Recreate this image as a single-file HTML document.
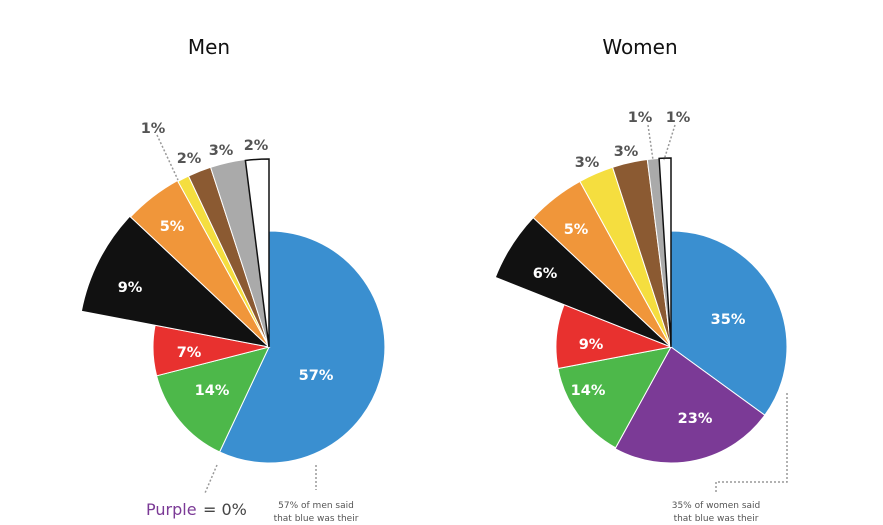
<!DOCTYPE html>
<html><head><meta charset="utf-8"><style>
body{margin:0;background:#fff;width:883px;height:525px;overflow:hidden}
svg{display:block}
text{font-family:"DejaVu Sans","Liberation Sans",sans-serif}
.b{font-weight:bold}
</style></head><body>
<svg id="s" width="883" height="525" viewBox="0 0 883 525">
<text x="209" y="54" font-size="20" text-anchor="middle" fill="#111">Men</text>
<text x="640" y="54" font-size="20" text-anchor="middle" fill="#111">Women</text>
<g id="p"></g>
<g fill="none" stroke="#999" stroke-width="1.5" stroke-dasharray="2,2">
<line x1="217" y1="465" x2="205" y2="493"/>
<line x1="316" y1="465" x2="316" y2="490"/>
<line x1="157" y1="135" x2="178" y2="180"/>
<polyline points="787,393 787,482 716,482 716,492"/>
<line x1="648" y1="125" x2="653" y2="160"/>
<line x1="675" y1="125" x2="664" y2="160"/>
</g>
<g id="l" font-size="14.5" text-anchor="middle" class="b"></g>
<text x="146" y="515" font-size="16" fill="#7b3a96">Purple</text>
<text x="203" y="515" font-size="16" fill="#444">= 0%</text>
<text x="316" y="508" font-size="9" fill="#555" text-anchor="middle">57% of men said</text>
<text x="316" y="521" font-size="9" fill="#555" text-anchor="middle">that blue was their</text>
<text x="716" y="508" font-size="9" fill="#555" text-anchor="middle">35% of women said</text>
<text x="716" y="521" font-size="9" fill="#555" text-anchor="middle">that blue was their</text>
</svg>
<script>
var C={b:"#3a8fd0",p:"#7b3a96",g:"#4db84a",r:"#e8312f",k:"#111",o:"#f0963a",y:"#f5de3f",n:"#8b5a32",a:"#aaa",w:"#fff"};
function pie(cx,cy,data){var a=0,h="";data.forEach(function(d){var a0=a,a1=a+d[1]*3.6;a=a1;var r=d[2];
function pt(t){t=t*Math.PI/180;return (cx+r*Math.sin(t)).toFixed(1)+","+(cy-r*Math.cos(t)).toFixed(1)}
h+='<path d="M'+cx+','+cy+' L'+pt(a0)+' A'+r+','+r+' 0 '+(a1-a0>180?1:0)+' 1 '+pt(a1)+' Z" fill="'+C[d[0]]+'" stroke="'+(d[0]=="w"?"#111":"#fff")+'" stroke-width="'+(d[0]=="w"?1.5:1)+'"/>';});return h;}
document.getElementById("p").innerHTML=
pie(269,347,[["b",57,116],["g",14,116],["r",7,116],["k",9,191],["o",5,190],["y",1,189],["n",2,189],["a",3,189],["w",2,188]])+
pie(671,347,[["b",35,116],["p",23,116],["g",14,115],["r",9,115],["k",6,189],["o",5,189],["y",3,189],["n",3,189],["a",1,189],["w",1,189]]);
var L=[[316,380,"57%","#fff"],[212,395,"14%","#fff"],[189,357,"7%","#fff"],[130,292,"9%","#fff"],[172,231,"5%","#fff"],[153,133,"1%","#555"],[189,163,"2%","#555"],[221,155,"3%","#555"],[256,150,"2%","#555"],
[728,324,"35%","#fff"],[695,423,"23%","#fff"],[588,395,"14%","#fff"],[591,349,"9%","#fff"],[545,278,"6%","#fff"],[576,234,"5%","#fff"],[587,167,"3%","#555"],[626,156,"3%","#555"],[640,122,"1%","#555"],[678,122,"1%","#555"]];
document.getElementById("l").innerHTML=L.map(function(d){return '<text x="'+d[0]+'" y="'+d[1]+'" fill="'+d[3]+'">'+d[2]+'</text>'}).join("");
</script>
</body></html>
